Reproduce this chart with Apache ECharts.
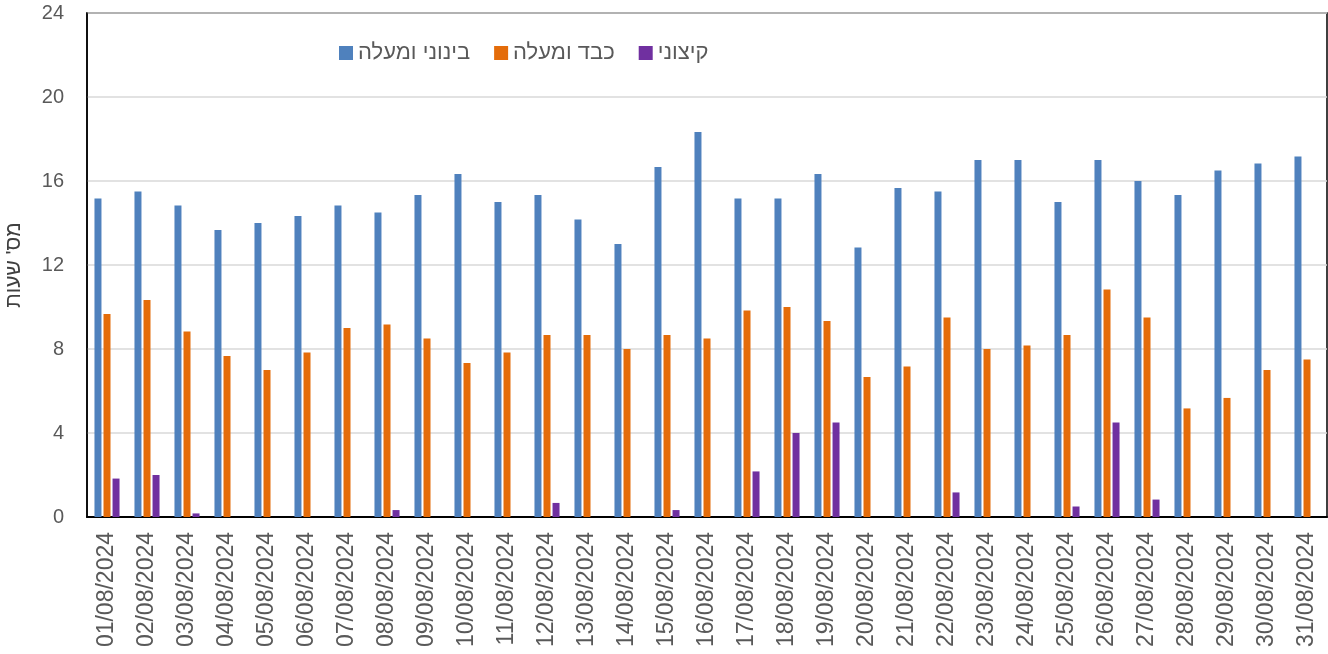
<!DOCTYPE html>
<html>
<head>
<meta charset="utf-8">
<script src="https://cdn.jsdelivr.net/npm/echarts@6/dist/echarts.min.js"></script>
<style>
html,body{margin:0;padding:0;background:#fff;}
#chart{width:1328px;height:654px;}
</style>
</head>
<body>
<div id="chart"></div>
<script>
const categories = ['01/08/2024','02/08/2024','03/08/2024','04/08/2024','05/08/2024','06/08/2024','07/08/2024','08/08/2024','09/08/2024','10/08/2024','11/08/2024','12/08/2024','13/08/2024','14/08/2024','15/08/2024','16/08/2024','17/08/2024','18/08/2024','19/08/2024','20/08/2024','21/08/2024','22/08/2024','23/08/2024','24/08/2024','25/08/2024','26/08/2024','27/08/2024','28/08/2024','29/08/2024','30/08/2024','31/08/2024'];
const moderateUp = [15.17,15.5,14.83,13.67,14.0,14.33,14.83,14.5,15.33,16.33,15.0,15.33,14.17,13.0,16.67,18.33,15.17,15.17,16.33,12.83,15.67,15.5,17.0,17.0,15.0,17.0,16.0,15.33,16.5,16.83,17.17];
const heavyUp = [9.67,10.33,8.83,7.67,7.0,7.83,9.0,9.17,8.5,7.33,7.83,8.67,8.67,8.0,8.67,8.5,9.83,10.0,9.33,6.67,7.17,9.5,8.0,8.17,8.67,10.83,9.5,5.17,5.67,7.0,7.5];
const extreme = [1.83,2.0,0.17,0,0,0,0,0.33,0,0,0,0.67,0,0,0.33,0,2.17,4.0,4.5,0,0,1.17,0,0,0.5,4.5,0.83,0,0,0,0];
const seriesNames = ['בינוני ומעלה','כבד ומעלה','קיצוני'];
const yTicks = {min:0, max:24, interval:4};
const yTitle = "מס' שעות";

const font = '"Liberation Sans", Arial, "DejaVu Sans", sans-serif';
const chart = echarts.init(document.getElementById('chart'), null, {renderer:'canvas'});
const barStyle = (c) => ({color:c});
const noZero = (arr) => arr.map(v => v === 0 ? null : v);
chart.setOption({
  animation:false,
  textStyle:{fontFamily:font},
  grid:{left:87, right:1, top:13, bottom:137, show:true, borderColor:'#000', borderWidth:1.5, containLabel:false, outerBoundsMode:'none'},
  legend:{
    left:339, top:42, padding:0, itemWidth:14, itemHeight:14, itemGap:24,
    icon:'rect',
    textStyle:{fontSize:22, color:'#595959', fontFamily:font},
    data:seriesNames
  },
  xAxis:{
    type:'category', data:categories, boundaryGap:true,
    axisLine:{show:true, lineStyle:{color:'#000', width:2}},
    axisTick:{show:false},
    axisLabel:{rotate:90, fontSize:23, color:'#595959', margin:15, interval:0, fontFamily:font}
  },
  yAxis:{
    type:'value', min:yTicks.min, max:yTicks.max, interval:yTicks.interval,
    name:yTitle, nameLocation:'middle', nameRotate:90, nameGap:62,
    nameTextStyle:{fontSize:21, color:'#404040', fontFamily:font},
    axisLine:{show:true, lineStyle:{color:'#000', width:1.5}},
    axisTick:{show:false},
    axisLabel:{fontSize:20, color:'#595959', margin:23, fontFamily:font},
    splitLine:{show:true, lineStyle:{color:'#d9d9d9', width:1.5}}
  },
  series:[
    {name:seriesNames[0], type:'bar', data:noZero(moderateUp), barWidth:7, barGap:'29%', itemStyle:barStyle('#4f81bd')},
    {name:seriesNames[1], type:'bar', data:noZero(heavyUp), barWidth:7, barGap:'29%', itemStyle:barStyle('#e46c0a')},
    {name:seriesNames[2], type:'bar', data:noZero(extreme), barWidth:7, barGap:'29%', itemStyle:barStyle('#7030a0')}
  ]
});
</script>
</body>
</html>
